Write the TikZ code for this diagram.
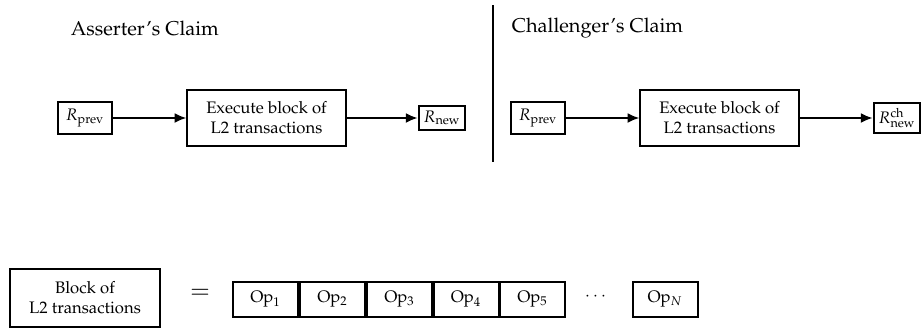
\documentclass[tikz,border=0pt]{standalone}
\usepackage[T1]{fontenc}
\usepackage{mathpazo}
\usepackage{amsmath}
\usetikzlibrary{arrows.meta}

\begin{document}
\begin{tikzpicture}[x=0.6pt,y=-0.6pt,
		box/.style={draw,line width=1.2pt,inner sep=3pt},
		rootbox/.style={box,minimum width=32pt,minimum height=19pt},
		execbox/.style={box,align=center,minimum width=95pt,minimum height=34pt},
		opbox/.style={box,minimum width=39pt,minimum height=21pt},
		flow/.style={-{Latex[length=7pt,width=6pt]},line width=1.2pt}]
		\useasboundingbox (0,0) rectangle (921,331);
		% Titles and the divider between the two claims
		\node[anchor=west,font=\large] (titleA) at (65,28) {Asserter's Claim};
		\node[anchor=west,font=\large] (titleC) at (506,28) {Challenger's Claim};
		\coordinate (divtop) at (493,5);
		\coordinate (divbot) at (493,162);
		\draw[line width=1.2pt] (divtop) -- (divbot);

		% Asserter's claim
		\node[rootbox] (prevA) at (85,118) {$R_{\text{prev}}$};
		\node[execbox] (execA) at (266.5,118) {Execute block of\\L2 transactions};
		\node[box] (newA) at (442,118) {$R_{\text{new}}$};
		\draw[flow] (prevA) -- (execA);
		\draw[flow] (execA) -- (newA);

		% Challenger's claim
		\node[rootbox] (prevC) at (538,118) {$R_{\text{prev}}$};
		\node[execbox] (execC) at (719.5,118) {Execute block of\\L2 transactions};
		\node[box] (newC) at (897,118) {$R_{\text{new}}^{\text{ch}}$};
		\draw[flow] (prevC) -- (execC);
		\draw[flow] (execC) -- (newC);

		% Block = sequence of operations
		\node[box,align=center,minimum width=90pt,minimum height=35pt] (block) at (85,298) {Block of\\L2 transactions};
		\node[font=\Large] (eq) at (200,294) {$=$};
		\foreach \i/\x in {1/265.5, 2/332.5, 3/399.5, 4/466, 5/532.5}
			\node[opbox] (op\i) at (\x,299.5) {Op$_{\i}$};
		\node (dots) at (597,297) {$\cdots$};
		\node[opbox] (opN) at (665,299.5) {Op$_{N}$};
	\end{tikzpicture}
\end{document}
